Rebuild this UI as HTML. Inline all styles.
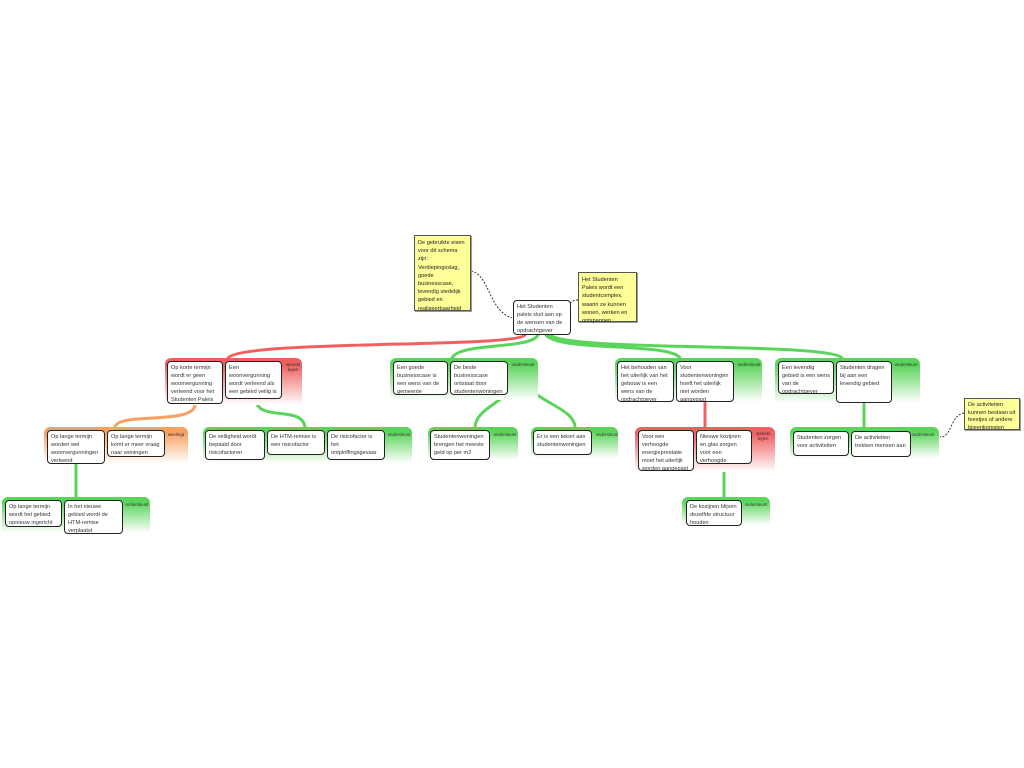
<!DOCTYPE html>
<html><head><meta charset="utf-8"><style>
body{margin:0;width:1024px;height:768px;background:#fff;position:relative;overflow:hidden;font-family:"Liberation Sans",sans-serif}
.g{position:absolute;border-radius:6px 6px 0 0}
.gr{background:linear-gradient(#5ad45a 0%,#5ad45a 15%,#fff 100%)}
.rd{background:linear-gradient(#f06060 0%,#f06060 15%,#fff 100%)}
.or{background:linear-gradient(#f8a060 0%,#f8a060 15%,#fff 100%)}
.b{position:absolute;background:#fff;border:1.3px solid #222;border-radius:4px;font-size:5.6px;line-height:8px;padding:1.5px 3px;box-sizing:border-box;color:#333;overflow:hidden}
.l{position:absolute;font-size:4.3px;color:#333;text-align:center;line-height:5px}
.n{position:absolute;background:#ffff99;border:1px solid #555;box-shadow:1px 1px 0 #999;font-size:5.6px;line-height:8.2px;padding:3px 3px;box-sizing:border-box;color:#222}
svg{position:absolute;left:0;top:0}
</style></head><body>
<svg width="1024" height="768">
<g fill="none" stroke-linecap="round">
<path d="M525 335 C515 348 240 340 228 358" stroke="#f06060" stroke-width="3"/>
<path d="M538 335 C530 350 460 342 452 358" stroke="#5ad45a" stroke-width="3"/>
<path d="M546 335 C560 352 670 342 680 358" stroke="#5ad45a" stroke-width="3"/>
<path d="M550 335 C570 352 830 342 842 358" stroke="#5ad45a" stroke-width="3"/>
<path d="M195 405 C193 425 118 412 115 427" stroke="#f8a060" stroke-width="3"/>
<path d="M256 400 C258 422 302 405 305 427" stroke="#5ad45a" stroke-width="3"/>
<path d="M518 372 C518 400 476 405 475 427" stroke="#5ad45a" stroke-width="3"/>
<path d="M522 372 C522 400 574 405 575 427" stroke="#5ad45a" stroke-width="3"/>
<path d="M705 403 L705 427" stroke="#f06060" stroke-width="3"/>
<path d="M864 404 L864 427" stroke="#5ad45a" stroke-width="3"/>
<path d="M76 464 L76 497" stroke="#5ad45a" stroke-width="3"/>
<path d="M724 464 L724 497" stroke="#5ad45a" stroke-width="3"/>
</g>
<g fill="none" stroke="#222" stroke-width="0.9" stroke-dasharray="2,1.5">
<path d="M471 271 C490 275 488 310 512 318"/>
<path d="M578 300 C565 300 568 315 572 318"/>
<path d="M964 413 C950 415 952 438 940 437"/>
</g>
</svg>

<div class="g rd" style="left:165px;top:358px;width:137px;height:47px"></div><div class="l" style="left:283px;top:362px;width:20px">spreekt tegen</div>
<div class="g gr" style="left:390px;top:358px;width:148px;height:42px"></div><div class="l" style="left:508px;top:362px;width:30px">ondersteunt</div>
<div class="g gr" style="left:615px;top:358px;width:147px;height:44px"></div><div class="l" style="left:734px;top:362px;width:30px">ondersteunt</div>
<div class="g gr" style="left:775px;top:358px;width:145px;height:45px"></div><div class="l" style="left:891px;top:362px;width:30px">ondersteunt</div>

<div class="g or" style="left:44px;top:427px;width:144px;height:36px"></div><div class="l" style="left:165px;top:432px;width:22px">weerlegt</div>
<div class="g gr" style="left:203px;top:427px;width:209px;height:36px"></div><div class="l" style="left:384px;top:432px;width:30px">ondersteunt</div>
<div class="g gr" style="left:428px;top:427px;width:90px;height:33px"></div><div class="l" style="left:490px;top:432px;width:30px">ondersteunt</div>
<div class="g gr" style="left:531px;top:427px;width:87px;height:31px"></div><div class="l" style="left:592px;top:432px;width:30px">ondersteunt</div>
<div class="g rd" style="left:635px;top:427px;width:140px;height:45px"></div><div class="l" style="left:752px;top:431px;width:22px">spreekt tegen</div>
<div class="g gr" style="left:790px;top:427px;width:149px;height:31px"></div><div class="l" style="left:908px;top:432px;width:30px">ondersteunt</div>

<div class="g gr" style="left:2px;top:497px;width:148px;height:36px"></div><div class="l" style="left:122px;top:502px;width:30px">ondersteunt</div>
<div class="g gr" style="left:682px;top:497px;width:88px;height:28px"></div><div class="l" style="left:741px;top:502px;width:30px">ondersteunt</div>

<div class="n" style="left:414px;top:235px;width:57px;height:76px">De gebruikte eisen voor dit schema zijn: Verdiepingsslag, goede businesscase, levendig stedelijk gebied en realiseerbaarheid</div>
<div class="n" style="left:578px;top:272px;width:59px;height:50px">Het Studenten Paleis wordt een studentcomplex, waarin ze kunnen wonen, werken en ontspannen</div>
<div class="n" style="left:964px;top:398px;width:56px;height:32px;line-height:7.6px">De activiteiten kunnen bestaan uit feestjes of andere bijeenkomsten</div>

<div class="b" style="left:513px;top:300px;width:58px;height:35px">Het Studenten paleis sluit aan op de wensen van de opdrachtgever</div>

<div class="b" style="left:167px;top:361px;width:56px;height:43px">Op korte termijn wordt er geen woonvergunning verleend voor het Studenten Paleis</div>
<div class="b" style="left:225px;top:361px;width:57px;height:38px">Een woonvergunning wordt verleend als een gebied veilig is</div>
<div class="b" style="left:393px;top:361px;width:55px;height:34px">Een goede businesscase is een wens van de gemeente</div>
<div class="b" style="left:450px;top:361px;width:58px;height:34px">De beste businesscase ontstaat door studentenwoningen</div>
<div class="b" style="left:617px;top:361px;width:57px;height:41px">Het behouden van het uiterlijk van het gebouw is een wens van de opdrachtgever</div>
<div class="b" style="left:676px;top:361px;width:58px;height:41px">Voor studentenwoningen hoeft het uiterlijk niet worden aangepast</div>
<div class="b" style="left:778px;top:361px;width:56px;height:33px">Een levendig gebied is een wens van de opdrachtgever</div>
<div class="b" style="left:836px;top:361px;width:56px;height:42px">Studenten dragen bij aan een levendig gebied</div>

<div class="b" style="left:47px;top:430px;width:58px;height:34px">Op lange termijn worden wel woonvergunningen verleend</div>
<div class="b" style="left:107px;top:430px;width:58px;height:27px">Op lange termijn komt er meer vraag naar woningen</div>
<div class="b" style="left:205px;top:430px;width:60px;height:30px">De veiligheid wordt bepaald door risicofactoren</div>
<div class="b" style="left:267px;top:430px;width:58px;height:25px">De HTM-remise is een risicofactor</div>
<div class="b" style="left:327px;top:430px;width:58px;height:30px">De risicofactor is het ontploffingsgevaar</div>
<div class="b" style="left:430px;top:430px;width:60px;height:30px">Studentenwoningen brengen het meeste geld op per m2</div>
<div class="b" style="left:533px;top:430px;width:59px;height:25px">Er is een tekort aan studentenwoningen</div>
<div class="b" style="left:638px;top:430px;width:56px;height:41px">Voor een verhoogde energieprestatie moet het uiterlijk worden aangepast</div>
<div class="b" style="left:696px;top:430px;width:56px;height:34px">Nieuwe kozijnen en glas zorgen voor een verhoogde energieprestatie</div>
<div class="b" style="left:793px;top:431px;width:56px;height:25px">Studenten zorgen voor activiteiten</div>
<div class="b" style="left:851px;top:431px;width:60px;height:26px">De activiteiten trekken mensen aan</div>

<div class="b" style="left:5px;top:500px;width:57px;height:27px">Op lange termijn wordt het gebied opnieuw ingericht</div>
<div class="b" style="left:64px;top:500px;width:59px;height:34px">In het nieuwe gebied wordt de HTM-remise verplaatst</div>
<div class="b" style="left:686px;top:500px;width:56px;height:26px">De kozijnen blijven dezelfde structuur houden</div>
</body></html>
